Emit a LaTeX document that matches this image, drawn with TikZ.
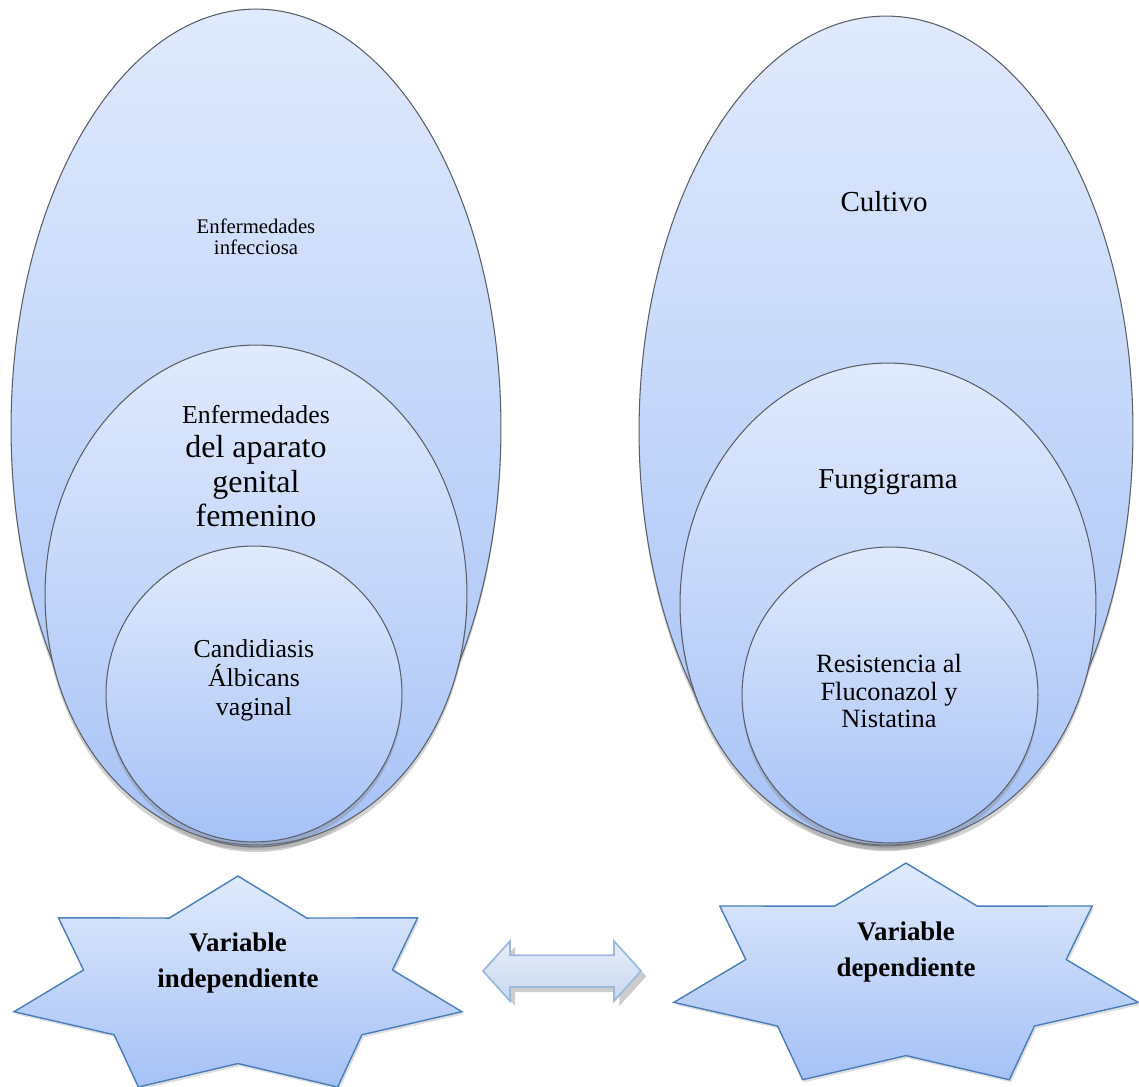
\documentclass[tikz,border=0pt]{standalone}
\usepackage{fontspec}
\setmainfont{Liberation Serif}
\usetikzlibrary{shapes.geometric,shapes.arrows,shadows}
\definecolor{bubtop}{HTML}{E0EAFD}
\definecolor{bubbot}{HTML}{A5C1F6}
\definecolor{bubline}{HTML}{5A5F6A}
\definecolor{starline}{HTML}{4A7EBB}
\definecolor{arrline}{HTML}{9DB9DE}
\definecolor{arrtop}{HTML}{E6EEF9}
\definecolor{arrbot}{HTML}{C9D8EE}
\tikzset{
  bubble/.style={ellipse, draw=bubline, line width=0.6pt, top color=bubtop, bottom color=bubbot, inner sep=0pt,
    drop shadow={shadow xshift=0pt, shadow yshift=-3pt, opacity=0.35}},
  badge/.style={star, star points=7, star point ratio=1.45, draw=starline, line width=0.8pt,
    top color=bubtop, bottom color=bubbot, inner sep=0pt, transform shape,
    drop shadow={shadow xshift=1pt, shadow yshift=-1.5pt, opacity=0.25}},
  dblarrow/.style={double arrow, double arrow head extend=0.28cm, double arrow tip angle=96,
    inner xsep=0pt, inner ysep=0.3cm,
    draw=arrline, line width=1pt, top color=arrtop, bottom color=arrbot,
    drop shadow={shadow xshift=3pt, shadow yshift=-3pt, opacity=0.4}},
  txt/.style={align=center, inner sep=0pt}
}

\begin{document}
\begin{tikzpicture}[x=0.02cm, y=-0.02cm]
  \useasboundingbox (0,0) rectangle (1139,1086);

  % left group
  \node[bubble, minimum width=9.8cm, minimum height=16.76cm] (infec) at (256,428) {};
  \node[bubble, minimum width=8.44cm, minimum height=10cm] (genital) at (256,595) {};
  \node[bubble, minimum size=5.92cm] (candida) at (254,694) {};

  % right group
  \node[bubble, minimum width=9.88cm, minimum height=16.6cm] (cultivo) at (886,431) {};
  \node[bubble, minimum width=8.32cm, minimum height=9.64cm] (fungi) at (888,604) {};
  \node[bubble, minimum size=5.92cm] (resist) at (890,695) {};

  \node[txt, font=\fontsize{11.8}{12}\selectfont] (tinfec) at (256,237) {Enfermedades\\infecciosa};
  \node[txt, font=\fontsize{18.2}{19.5}\selectfont] (tgenital) at (256,466)
    {{\fontsize{14.7}{19.5}\selectfont Enfermedades}\\del aparato\\genital\\femenino};
  \node[txt, font=\fontsize{14.7}{16.5}\selectfont] (tcandida) at (254,680) {Candidiasis\\Álbicans\\vaginal};
  \node[txt, font=\fontsize{16.5}{18}\selectfont] (tcultivo) at (884,202) {Cultivo};
  \node[txt, font=\fontsize{16.4}{18}\selectfont] (tfungi) at (888,482) {Fungigrama};
  \node[txt, font=\fontsize{15}{15.6}\selectfont] (tresist) at (889,691) {Resistencia al\\Fluconazol y\\Nistatina};

  % variables
  \node[badge, minimum size=4.44cm, xscale=2.07] (indep) at (238,987) {};
  \node[badge, minimum size=4.56cm, xscale=2.09] (dep) at (906,977) {};
  \node[txt, font=\bfseries\fontsize{15.3}{20}\selectfont] (tindep) at (238,963) {Variable\\independiente};
  \node[txt, font=\bfseries\fontsize{15.3}{20}\selectfont] (tdep) at (906,952) {Variable\\dependiente};

  \node[dblarrow, minimum height=3.16cm] (link) at (562,971) {};
\end{tikzpicture}
\end{document}
